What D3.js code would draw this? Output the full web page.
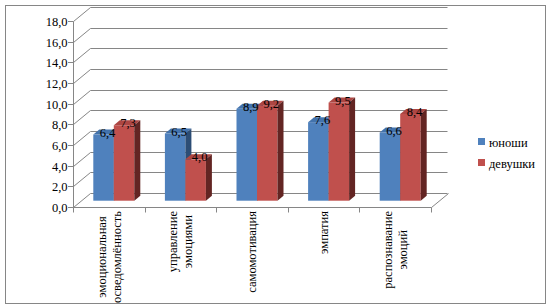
<!DOCTYPE html>
<html>
<head>
<meta charset="utf-8">
<script src="https://cdn.jsdelivr.net/npm/d3@7"></script>
<style>
  body { margin: 0; background: #fff; }
  svg text { font-family: 'Times New Roman', 'Liberation Serif', 'DejaVu Serif', serif; }
</style>
</head>
<body>
<svg id="drawing_region"></svg>
<script>
// data
const categories = [
    ["эмоциональная", "осведомлённость"],
    ["управление", "эмоциями"],
    ["самомотивация"],
    ["эмпатия"],
    ["распознавание", "эмоций"]
];
const series = ["юноши", "девушки"];
const boys = [6.4, 6.5, 8.9, 7.6, 6.6];
const girls = [7.3, 4.0, 9.2, 9.5, 8.4];
const yTicks = [0, 2, 4, 6, 8, 10, 12, 14, 16, 18];

const colors = {
    "юноши":   { front: "#4f81bd", top: "#4373ad", side: "#2c4d75" },
    "девушки": { front: "#c0504d", top: "#ad4643", side: "#632523" }
};

const width = 551, height = 308;
const depth = { dx: 17, dy: -14 };          // floor / wall depth
const barShift = { dx: 7.6, dy: -6.3 };     // bar front face inside the depth
const barDepth = { dx: 6, dy: -5 };         // thickness of a bar

const svg = d3.select("#drawing_region")
    .attr("width", width)
    .attr("height", height);

// outer frame
svg.append("rect")
    .attr("x", 5.5).attr("y", 5.5)
    .attr("width", 540).attr("height", 298)
    .attr("fill", "none")
    .attr("stroke", "#868686");

const xscale = d3.scaleBand()
    .domain(d3.range(categories.length))
    .range([73, 431]);

const xinner = d3.scaleBand()
    .domain(series)
    .range([20.3, 61.3]);

const yscale = d3.scaleLinear()
    .domain([0, 18])
    .range([207, 21]);

const px = v => Math.round(v) + 0.5;
const grid = svg.append("g").attr("stroke", "#868686").attr("fill", "none");

// back wall gridlines and side wall diagonals
yTicks.forEach(t => {
    const y = px(yscale(t));
    grid.append("line")
        .attr("x1", 73.5 + depth.dx).attr("x2", 447.5)
        .attr("y1", y + depth.dy).attr("y2", y + depth.dy);
    grid.append("path")
        .attr("d", `M73.5,${y}L${73.5 + depth.dx},${y + depth.dy}`);
});

// floor right edge
grid.append("path")
    .attr("d", `M${px(xscale.range()[1])},${px(yscale(0))}l${depth.dx},${depth.dy}`);

// y axis
grid.append("line")
    .attr("x1", 73.5).attr("x2", 73.5)
    .attr("y1", px(yscale(18))).attr("y2", px(yscale(0)));

yTicks.forEach(t => {
    const y = px(yscale(t));
    grid.append("line")
        .attr("x1", 68).attr("x2", 73.5)
        .attr("y1", y).attr("y2", y);
    svg.append("text")
        .attr("x", 67.5)
        .attr("y", y)
        .attr("dy", "0.35em")
        .attr("text-anchor", "end")
        .attr("font-size", 12.5)
        .text(d3.format(".1f")(t).replace(".", ","));
});

// x axis
grid.append("line")
    .attr("x1", 73.5).attr("x2", px(xscale.range()[1]))
    .attr("y1", px(yscale(0))).attr("y2", px(yscale(0)));
d3.range(categories.length + 1).forEach(i => {
    const x = px(73 + i * xscale.step());
    grid.append("line")
        .attr("x1", x).attr("x2", x)
        .attr("y1", px(yscale(0))).attr("y2", px(yscale(0)) + 5);
});

// bars
const bars = svg.append("g");
const labels = svg.append("g")
    .attr("font-size", 12.5)
    .attr("text-anchor", "middle");

categories.forEach((c, i) => {
    [boys[i], girls[i]].forEach((v, j) => {
        const s = series[j];
        const x0 = xscale(i) + xinner(s);
        const x1 = x0 + xinner.bandwidth();
        const yb = yscale(0) + barShift.dy;
        const yt = yscale(v) + barShift.dy;
        const g = bars.append("g");
        g.append("rect")
            .attr("x", x0).attr("y", yt)
            .attr("width", x1 - x0).attr("height", yb - yt)
            .attr("fill", colors[s].front);
        g.append("path")
            .attr("d", `M${x0},${yt}L${x1},${yt}l${barDepth.dx},${barDepth.dy}L${x0 + barDepth.dx},${yt + barDepth.dy}Z`)
            .attr("fill", colors[s].top);
        g.append("path")
            .attr("d", `M${x1},${yt}L${x1},${yb}l${barDepth.dx},${barDepth.dy}L${x1 + barDepth.dx},${yt + barDepth.dy}Z`)
            .attr("fill", colors[s].side);
    });
});

categories.forEach((c, i) => {
    [boys[i], girls[i]].forEach((v, j) => {
        const s = series[j];
        const xc = xscale(i) + xinner(s) + xinner.bandwidth() / 2;
        labels.append("text")
            .attr("x", xc + 4)
            .attr("y", yscale(v) + barShift.dy + 2)
            .text(d3.format(".1f")(v).replace(".", ","));
    });
});

// category labels, rotated
const catg = svg.append("g").attr("font-size", 12.5);
categories.forEach((lines, i) => {
    const cx = xscale(i) + xscale.bandwidth() / 2;
    const g = catg.append("g");
    const texts = lines.map((l, k) => {
        const lx = cx + (k - (lines.length - 1) / 2) * 15;
        return g.append("text")
            .attr("transform", `translate(${lx},211) rotate(-90)`)
            .attr("dy", "0.35em")
            .attr("text-anchor", "middle")
            .text(l);
    });
    const longest = d3.max(texts, t => t.node().getComputedTextLength());
    texts.forEach(t => t.attr("x", -longest / 2));
});

// legend
const legend = svg.append("g").attr("font-size", 12.5);
series.forEach((s, k) => {
    legend.append("rect")
        .attr("x", 478).attr("y", 138 + k * 21)
        .attr("width", 7).attr("height", 7)
        .attr("fill", colors[s].front);
    legend.append("text")
        .attr("x", 489).attr("y", 147 + k * 21)
        .text(s);
});
</script>
</body>
</html>
